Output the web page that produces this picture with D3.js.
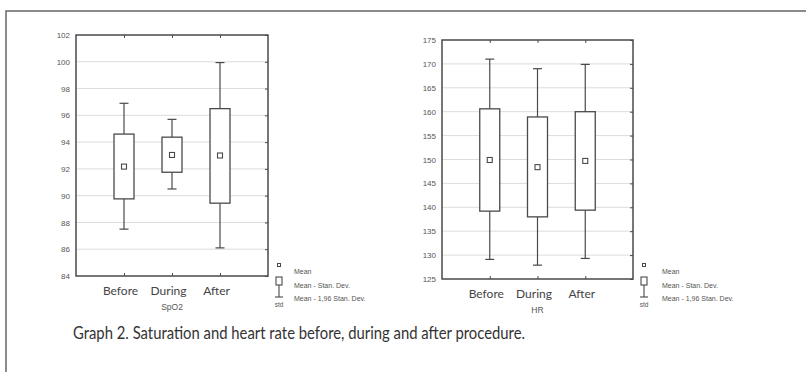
<!DOCTYPE html>
<html><head><meta charset="utf-8">
<script src="https://cdn.jsdelivr.net/npm/d3@7"></script>
<style>body{margin:0;background:#fff}svg{display:block}</style>
</head><body>
<svg id="c" width="807" height="375"></svg>
<script>
const categories = ["Before", "During", "After"];
// SpO2
const spo2Mean  = [92.17, 93.04, 93.0];
const spo2SdLo  = [89.76, 91.75, 89.44];
const spo2SdHi  = [94.6, 94.37, 96.5];
const spo2CiLo  = [87.5, 90.5, 86.1];
const spo2CiHi  = [96.9, 95.7, 99.94];
const spo2Ticks = [84, 86, 88, 90, 92, 94, 96, 98, 100, 102];
// HR
const hrMean  = [149.9, 148.4, 149.7];
const hrSdLo  = [139.2, 138.0, 139.4];
const hrSdHi  = [160.6, 158.9, 160.0];
const hrCiLo  = [129.1, 127.9, 129.3];
const hrCiHi  = [171.0, 169.0, 169.9];
const hrTicks = [125, 130, 135, 140, 145, 150, 155, 160, 165, 170, 175];
const legendLabels = ["Mean", "Mean - Stan. Dev.", "Mean - 1,96 Stan. Dev."];
const caption = "Graph 2. Saturation and heart rate before, during and after procedure.";

const svg = d3.select("#c");
const dark = "#4a4a4a";

// outer frame (top and left)
svg.append("path").attr("d", "M6,372V11H806").attr("fill", "none")
  .attr("stroke", "#666").attr("stroke-width", 1.5);

function panel(o) {
  const x = d3.scalePoint().domain(categories).range([o.x0, o.x1]).padding(1);
  const y = d3.scaleLinear().domain([o.ticks[0], o.ticks[o.ticks.length - 1]]).range([o.y1, o.y0]);
  const g = svg.append("g");
  // grid
  g.selectAll("line.grid").data(o.ticks.slice(1, -1)).join("line")
    .attr("x1", o.x0).attr("x2", o.x1).attr("y1", d => y(d)).attr("y2", d => y(d))
    .attr("stroke", "#dcdcdc").attr("stroke-width", 1);
  // axes
  const yl = g.append("g").attr("transform", `translate(${o.x0},0)`)
    .call(d3.axisLeft(y).tickValues(o.ticks).tickSize(0).tickPadding(6).tickFormat(d3.format("d")));
  yl.select(".domain").remove();
  yl.selectAll("text").attr("font-family", "Liberation Sans, Arial, sans-serif").attr("font-size", 8).attr("fill", "#555");
  const yr = g.append("g").attr("transform", `translate(${o.x1},0)`)
    .call(d3.axisLeft(y).tickValues(o.ticks).tickSize(3).tickFormat(""));
  yr.select(".domain").remove();
  yr.selectAll("line").attr("stroke", dark);
  const xt = g.append("g").attr("transform", `translate(0,${o.y0})`)
    .call(d3.axisBottom(x).tickSize(3).tickFormat(""));
  xt.select(".domain").remove(); xt.selectAll("line").attr("stroke", dark);
  const xb = g.append("g").attr("transform", `translate(0,${o.y1})`)
    .call(d3.axisTop(x).tickSize(3).tickPadding(-22).tickFormat(d => d));
  xb.select(".domain").remove(); xb.selectAll("line").attr("stroke", dark);
  xb.selectAll("text").attr("font-family", "Lato, 'Open Sans', sans-serif").attr("font-size", 12)
    .attr("fill", "#444").attr("dx", -4);
  g.append("rect").attr("x", o.x0).attr("y", o.y0).attr("width", o.x1 - o.x0).attr("height", o.y1 - o.y0)
    .attr("fill", "none").attr("stroke", dark).attr("stroke-width", 1.5);
  g.append("text").attr("x", (o.x0 + o.x1) / 2).attr("y", o.y1 + 34).attr("text-anchor", "middle")
    .attr("font-family", "Liberation Sans, Arial, sans-serif").attr("font-size", 8.5).attr("fill", "#555").text(o.label);
  // boxes
  const bw = 20, cw = 9;
  categories.forEach((c, i) => {
    const cx = x(c);
    g.append("line").attr("x1", cx).attr("x2", cx).attr("y1", y(o.ciHi[i])).attr("y2", y(o.sdHi[i])).attr("stroke", dark).attr("stroke-width", 1.2);
    g.append("line").attr("x1", cx).attr("x2", cx).attr("y1", y(o.sdLo[i])).attr("y2", y(o.ciLo[i])).attr("stroke", dark).attr("stroke-width", 1.2);
    [o.ciHi[i], o.ciLo[i]].forEach(v => g.append("line").attr("x1", cx - cw / 2).attr("x2", cx + cw / 2)
      .attr("y1", y(v)).attr("y2", y(v)).attr("stroke", dark).attr("stroke-width", 1.2));
    g.append("rect").attr("x", cx - bw / 2).attr("width", bw).attr("y", y(o.sdHi[i])).attr("height", y(o.sdLo[i]) - y(o.sdHi[i]))
      .attr("fill", "#fff").attr("stroke", dark).attr("stroke-width", 1.3);
    g.append("rect").attr("x", cx - 2.5).attr("y", y(o.mean[i]) - 2.5).attr("width", 5).attr("height", 5)
      .attr("fill", "#fff").attr("stroke", dark).attr("stroke-width", 1.1);
  });
  // legend
  const lx = o.lx, ly = 265;
  const lg = svg.append("g").attr("stroke", dark).attr("fill", "none");
  lg.append("rect").attr("x", lx - 1.5).attr("y", ly - 1.5).attr("width", 3).attr("height", 3).attr("stroke-width", 1);
  lg.append("rect").attr("x", lx - 3).attr("y", ly + 12).attr("width", 6).attr("height", 8).attr("stroke-width", 1.1);
  lg.append("line").attr("x1", lx).attr("x2", lx).attr("y1", ly + 20).attr("y2", ly + 32).attr("stroke-width", 1.1);
  lg.append("line").attr("x1", lx - 4).attr("x2", lx + 4).attr("y1", ly + 32).attr("y2", ly + 32).attr("stroke-width", 1.1);
  svg.append("text").attr("x", lx).attr("y", ly + 42).attr("text-anchor", "middle")
    .attr("font-family", "Liberation Sans, Arial, sans-serif").attr("font-size", 6.5).attr("fill", "#555").text("std");
  svg.selectAll(null).data(legendLabels).join("text")
    .attr("x", o.ltx).attr("y", (d, i) => 274 + i * 13.5)
    .attr("font-family", "Liberation Sans, Arial, sans-serif").attr("font-size", 7).attr("fill", "#555").text(d => d);
}

panel({x0: 76, x1: 268, y0: 35, y1: 276, ticks: spo2Ticks, mean: spo2Mean, sdLo: spo2SdLo, sdHi: spo2SdHi,
  ciLo: spo2CiLo, ciHi: spo2CiHi, label: "SpO2", lx: 279, ltx: 294});
panel({x0: 442, x1: 633, y0: 40, y1: 279, ticks: hrTicks, mean: hrMean, sdLo: hrSdLo, sdHi: hrSdHi,
  ciLo: hrCiLo, ciHi: hrCiHi, label: "HR", lx: 644, ltx: 662});

svg.append("text").attr("x", 73).attr("y", 339).attr("font-family", "Lato, 'Open Sans', sans-serif")
  .attr("font-size", 17).attr("fill", "#333").attr("textLength", 452).attr("lengthAdjust", "spacingAndGlyphs").text(caption);
</script>
</body></html>
